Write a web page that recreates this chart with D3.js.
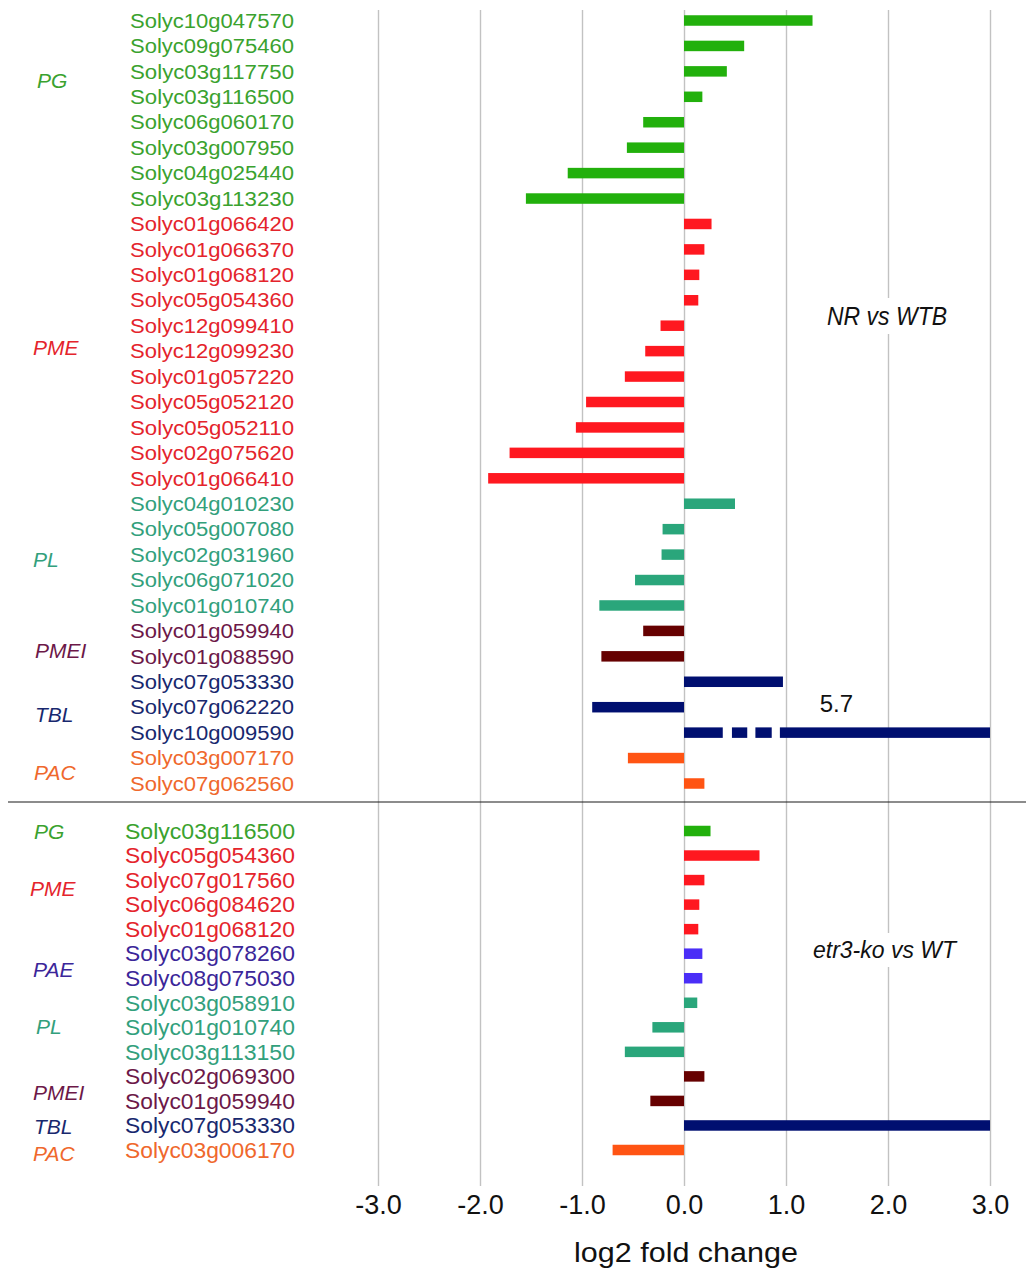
<!DOCTYPE html>
<html>
<head>
<meta charset="utf-8">
<script src="https://cdn.jsdelivr.net/npm/d3@7"></script>
<style>
  html, body { margin: 0; padding: 0; background: #fff; }
  svg { display: block; font-family: "Liberation Sans", Arial, sans-serif; }
</style>
</head>
<body>
<svg id="chart" width="1026" height="1269"></svg>
<script>
// ---- NR vs WTB ----
const topGenes = [
  "Solyc10g047570", "Solyc09g075460", "Solyc03g117750", "Solyc03g116500",
  "Solyc06g060170", "Solyc03g007950", "Solyc04g025440", "Solyc03g113230",
  "Solyc01g066420", "Solyc01g066370", "Solyc01g068120", "Solyc05g054360",
  "Solyc12g099410", "Solyc12g099230", "Solyc01g057220", "Solyc05g052120",
  "Solyc05g052110", "Solyc02g075620", "Solyc01g066410",
  "Solyc04g010230", "Solyc05g007080", "Solyc02g031960", "Solyc06g071020", "Solyc01g010740",
  "Solyc01g059940", "Solyc01g088590",
  "Solyc07g053330", "Solyc07g062220", "Solyc10g009590",
  "Solyc03g007170", "Solyc07g062560"
];
const topValues = [
  1.26, 0.59, 0.42, 0.18, -0.40, -0.56, -1.14, -1.55,
  0.27, 0.20, 0.15, 0.14, -0.23, -0.38, -0.58, -0.96, -1.06, -1.71, -1.92,
  0.50, -0.21, -0.22, -0.48, -0.83,
  -0.40, -0.81,
  0.97, -0.90, 5.7,
  -0.55, 0.20
];
const topFamilies = [
  "PG", "PG", "PG", "PG", "PG", "PG", "PG", "PG",
  "PME", "PME", "PME", "PME", "PME", "PME", "PME", "PME", "PME", "PME", "PME",
  "PL", "PL", "PL", "PL", "PL",
  "PMEI", "PMEI",
  "TBL", "TBL", "TBL",
  "PAC", "PAC"
];
// family name and the (fractional) row it sits beside
const topGroupNames = ["PG", "PME", "PL", "PMEI", "TBL", "PAC"];
const topGroupRows  = [2.34, 12.84, 21.2, 24.75, 27.3, 29.55];

// ---- etr3-ko vs WT ----
const bottomGenes = [
  "Solyc03g116500", "Solyc05g054360", "Solyc07g017560", "Solyc06g084620",
  "Solyc01g068120", "Solyc03g078260", "Solyc08g075030", "Solyc03g058910",
  "Solyc01g010740", "Solyc03g113150", "Solyc02g069300", "Solyc01g059940",
  "Solyc07g053330", "Solyc03g006170"
];
const bottomValues = [0.26, 0.74, 0.20, 0.15, 0.14, 0.18, 0.18, 0.13, -0.31, -0.58, 0.20, -0.33, 3.0, -0.70];
const bottomFamilies = ["PG", "PME", "PME", "PME", "PME", "PAE", "PAE", "PL", "PL", "PL", "PMEI", "PMEI", "TBL", "PAC"];
const bottomGroupNames = ["PG", "PME", "PAE", "PL", "PMEI", "TBL", "PAC"];
const bottomGroupRows  = [0, 2.33, 5.66, 7.95, 10.64, 12.06, 13.12];

const xTicks = [-3, -2, -1, 0, 1, 2, 3];

// ---- styling ----
const barColor = {
  PG: "#22b00c", PME: "#ff1820", PL: "#2aa67b", PMEI: "#660000",
  TBL: "#000f70", PAC: "#ff5413", PAE: "#4a2ef7"
};
const textColor = {
  PG: "#3aa22e", PME: "#e4242c", PL: "#32a07c", PMEI: "#6c1848",
  TBL: "#18286e", PAC: "#ef682c", PAE: "#3b2699"
};
// gaps drawn in bars that run past the axis end (value units)
const breakGaps = [[0.38, 0.47], [0.62, 0.70], [0.86, 0.94]];

const svg = d3.select("#chart");
svg.append("rect").attr("width", 1026).attr("height", 1269).attr("fill", "#fff");

const x = d3.scaleLinear().domain([-3, 3]).range([378, 990]);
const xBar = x.copy().clamp(true);

const gridTop = 10, gridBottom = 1186;

// axis with full-height gridlines
const axis = d3.axisBottom(x)
  .tickValues(xTicks)
  .tickFormat(d => d.toFixed(1))
  .tickSize(-(gridBottom - gridTop))
  .tickPadding(9);

const gAxis = svg.append("g").attr("transform", `translate(0,${gridBottom})`).call(axis);
gAxis.select(".domain").remove();
gAxis.selectAll(".tick line").attr("stroke", "#c2c2c2").attr("stroke-width", 1.4);
gAxis.selectAll(".tick text")
  .attr("fill", "#111")
  .style("font-size", "27px")
  .style("font-family", "'Liberation Sans', Arial, sans-serif");

svg.append("text")
  .attr("x", 686).attr("y", 1262)
  .attr("text-anchor", "middle")
  .attr("textLength", 224).attr("lengthAdjust", "spacingAndGlyphs")
  .style("font-size", "27px").attr("fill", "#111")
  .text("log2 fold change");

// separator between the two comparisons
svg.append("line")
  .attr("x1", 8).attr("x2", 1026).attr("y1", 802).attr("y2", 802)
  .attr("stroke", "#1a1a1a").attr("stroke-width", 1.2);

const barH = 10.5;

function drawPanel(genes, values, families, groupNames, groupRows, yRange, opts) {
  const y = d3.scaleLinear().domain([0, genes.length - 1]).range(yRange);
  const rows = genes.map((g, i) => ({ gene: g, value: values[i], family: families[i], i }));
  const g = svg.append("g");

  // bars
  rows.forEach(r => {
    const x0 = xBar(Math.min(0, r.value));
    const x1 = xBar(Math.max(0, r.value));
    const yc = y(r.i);
    if (r.value > x.domain()[1]) {
      // broken bar: value beyond the axis
      let segs = [];
      let start = 0;
      breakGaps.forEach(([a, b]) => { segs.push([start, a]); start = b; });
      segs.push([start, x.domain()[1]]);
      g.selectAll(null).data(segs).join("rect")
        .attr("x", d => x(d[0])).attr("width", d => x(d[1]) - x(d[0]))
        .attr("y", yc - barH / 2).attr("height", barH)
        .attr("fill", barColor[r.family]);
      g.append("text")
        .attr("x", x(1.33)).attr("y", yc - 21)
        .style("font-size", "24px").attr("fill", "#111")
        .text(d3.format(".1f")(r.value));
    } else {
      g.append("rect")
        .attr("x", x0).attr("width", Math.max(0, x1 - x0))
        .attr("y", yc - barH / 2).attr("height", barH)
        .attr("fill", barColor[r.family]);
    }
  });

  // gene labels
  g.selectAll(null).data(rows).join("text")
    .attr("x", opts.labelX).attr("y", d => y(d.i))
    .attr("dy", "0.36em")
    .attr("textLength", opts.labelLen).attr("lengthAdjust", "spacingAndGlyphs")
    .style("font-size", opts.labelSize + "px")
    .attr("fill", d => textColor[d.family])
    .text(d => d.gene);

  // family labels
  g.selectAll(null).data(groupNames).join("text")
    .attr("x", (d, i) => opts.groupX[i]).attr("y", (d, i) => y(groupRows[i]))
    .attr("dy", "0.36em")
    .style("font-size", "21px").style("font-style", "italic")
    .attr("fill", d => textColor[d])
    .text(d => d);

  // comparison title on a white patch over the gridlines
  const t = g.append("text")
    .attr("x", opts.titleX).attr("y", opts.titleY)
    .attr("textLength", opts.titleLen).attr("lengthAdjust", "spacingAndGlyphs")
    .style("font-size", opts.titleSize + "px").style("font-style", "italic")
    .attr("fill", "#111")
    .text(opts.title);
  const bb = t.node().getBBox();
  g.insert("rect", () => t.node())
    .attr("x", bb.x - 6).attr("y", bb.y - 4)
    .attr("width", bb.width + 12).attr("height", bb.height + 8)
    .attr("fill", "#fff");
}

drawPanel(topGenes, topValues, topFamilies, topGroupNames, topGroupRows, [20.5, 783.5], {
  labelX: 130, labelLen: 164, labelSize: 20,
  groupX: [37, 33, 33, 35, 35, 34],
  title: "NR vs WTB", titleX: 827, titleY: 325, titleLen: 120, titleSize: 25
});

drawPanel(bottomGenes, bottomValues, bottomFamilies, bottomGroupNames, bottomGroupRows, [831, 1150], {
  labelX: 125, labelLen: 170, labelSize: 21.5,
  groupX: [34, 30, 33, 36, 33, 34, 33],
  title: "etr3-ko vs WT", titleX: 813, titleY: 958, titleLen: 143, titleSize: 23
});
</script>
</body>
</html>
